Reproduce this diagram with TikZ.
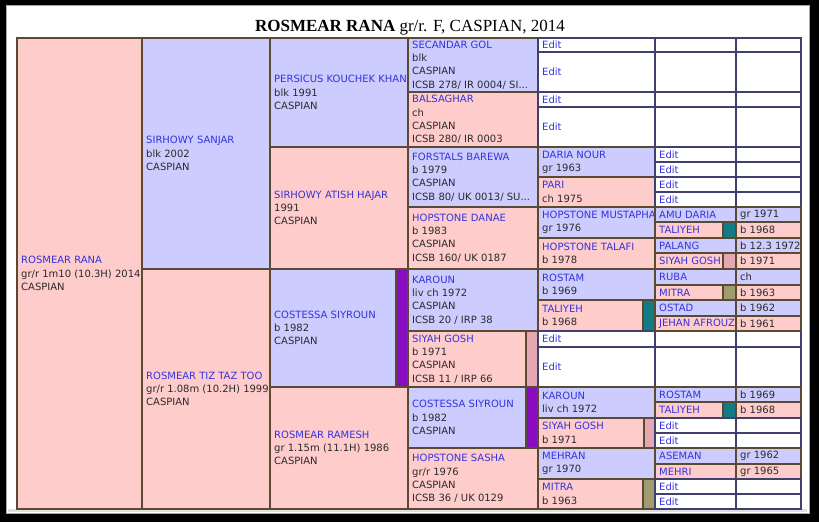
\documentclass[tikz,border=0pt]{standalone}
\usepackage{fontspec}
\newfontfamily\hfont{DejaVu Sans}
\newfontfamily\titlefont{Liberation Serif}
\usetikzlibrary{positioning}

\definecolor{sireblue}{HTML}{CCCCFF}
\definecolor{dampink}{HTML}{FFCCCC}
\definecolor{cellbrown}{HTML}{5A4A32}
\definecolor{blanknavy}{HTML}{40406E}
\definecolor{nameblue}{HTML}{3333DD}
\definecolor{textgray}{HTML}{2A2A2A}
\definecolor{purplebar}{HTML}{8A0CC0}
\definecolor{tealbar}{HTML}{137B85}
\definecolor{pinkbar}{HTML}{E4A8B2}
\definecolor{olivebar}{HTML}{A09C70}

\newcommand{\hname}[1]{\textcolor{nameblue}{#1}}

\tikzset{
  sirecell/.style={fill=sireblue, draw=cellbrown, line width=1.8pt},
  damcell/.style={fill=dampink, draw=cellbrown, line width=1.8pt},
  barcell/.style={fill=#1, draw=cellbrown, line width=1.8pt},
  blankcell/.style={fill=white, draw=blanknavy, line width=1.5pt},
  horse/.style={anchor=west, align=left, inner sep=0pt, text=textgray,
    font=\hfont\fontsize{10}{13.3}\selectfont},
}

\begin{document}
\begin{tikzpicture}[x=1pt,y=-1pt]
\useasboundingbox (0,0) rectangle (819,522);
\fill[black] (0,0) rectangle (819,522);
\fill[white] (6,5) rectangle (809,513);
\draw[gray!70, line width=1pt] (6,5) rectangle (809,513);
\fill[gray!25] (8,509) rectangle (807,512);

% title
\node[anchor=base, inner sep=0pt, font=\titlefont\fontsize{17}{20}\selectfont] (title) at (410,31)
  {\textbf{ROSMEAR RANA} gr/r. F, CASPIAN, 2014};

% generation 1 and 2
\filldraw[damcell] (17,38) rectangle (142,509);
\node[horse] (rana) at (21,273.5) {\hname{ROSMEAR RANA}\\gr/r 1m10 (10.3H) 2014\\CASPIAN};
\filldraw[sirecell] (142,38) rectangle (270,269);
\node[horse] (sanjar) at (146,153.5) {\hname{SIRHOWY SANJAR}\\blk 2002\\CASPIAN};
\filldraw[damcell] (142,269) rectangle (270,509);
\node[horse] (tiztaz) at (146,389) {\hname{ROSMEAR TIZ TAZ TOO}\\gr/r 1.08m (10.2H) 1999\\CASPIAN};

% generation 3
\filldraw[sirecell] (270,38) rectangle (408,147);
\node[horse] (persicus) at (274,92.5) {\hname{PERSICUS KOUCHEK KHAN}\\blk 1991\\CASPIAN};
\filldraw[damcell] (270,147) rectangle (408,269);
\node[horse] (atish) at (274,208) {\hname{SIRHOWY ATISH HAJAR}\\1991\\CASPIAN};
\filldraw[sirecell] (270,269) rectangle (396,387);
\filldraw[barcell=purplebar] (396,269) rectangle (408,387);
\node[horse] (costessa) at (274,328) {\hname{COSTESSA SIYROUN}\\b 1982\\CASPIAN};
\filldraw[damcell] (270,387) rectangle (408,509);
\node[horse] (ramesh) at (274,448) {\hname{ROSMEAR RAMESH}\\gr 1.15m (11.1H) 1986\\CASPIAN};

% generation 4
\filldraw[sirecell] (408,38) rectangle (538,92);
\node[horse] (secandar) at (412,65) {\hname{SECANDAR GOL}\\blk\\CASPIAN\\ICSB 278/ IR 0004/ SI...};
\filldraw[damcell] (408,92) rectangle (538,147);
\node[horse] (balsaghar) at (412,119.5) {\hname{BALSAGHAR}\\ch\\CASPIAN\\ICSB 280/ IR 0003};
\filldraw[sirecell] (408,147) rectangle (538,207);
\node[horse] (forstals) at (412,177) {\hname{FORSTALS BAREWA}\\b 1979\\CASPIAN\\ICSB 80/ UK 0013/ SU...};
\filldraw[damcell] (408,207) rectangle (538,269);
\node[horse] (danae) at (412,238) {\hname{HOPSTONE DANAE}\\b 1983\\CASPIAN\\ICSB 160/ UK 0187};
\filldraw[sirecell] (408,269) rectangle (538,331);
\node[horse] (karoun) at (412,300) {\hname{KAROUN}\\liv ch 1972\\CASPIAN\\ICSB 20 / IRP 38};
\filldraw[damcell] (408,331) rectangle (526,387);
\filldraw[barcell=pinkbar] (526,331) rectangle (538,387);
\node[horse] (siyah) at (412,359) {\hname{SIYAH GOSH}\\b 1971\\CASPIAN\\ICSB 11 / IRP 66};
\filldraw[sirecell] (408,387) rectangle (526,448);
\filldraw[barcell=purplebar] (526,387) rectangle (538,448);
\node[horse] (costessatwo) at (412,417.5) {\hname{COSTESSA SIYROUN}\\b 1982\\CASPIAN};
\filldraw[damcell] (408,448) rectangle (538,509);
\node[horse] (sasha) at (412,478.5) {\hname{HOPSTONE SASHA}\\gr/r 1976\\CASPIAN\\ICSB 36 / UK 0129};

% generation 5
\filldraw[blankcell] (538,38) rectangle (655,52);
\node[horse] (edita) at (542,45) {\hname{Edit}};
\filldraw[blankcell] (538,52) rectangle (655,92);
\node[horse] (editb) at (542,72) {\hname{Edit}};
\filldraw[blankcell] (538,92) rectangle (655,107);
\node[horse] (editc) at (542,99.5) {\hname{Edit}};
\filldraw[blankcell] (538,107) rectangle (655,147);
\node[horse] (editd) at (542,127) {\hname{Edit}};
\filldraw[sirecell] (538,147) rectangle (655,177);
\node[horse] (daria) at (542,162) {\hname{DARIA NOUR}\\gr 1963};
\filldraw[damcell] (538,177) rectangle (655,207);
\node[horse] (pari) at (542,192) {\hname{PARI}\\ch 1975};
\filldraw[sirecell] (538,207) rectangle (655,238);
\node[horse] (mustapha) at (542,222.5) {\hname{HOPSTONE MUSTAPHA}\\gr 1976};
\filldraw[damcell] (538,238) rectangle (655,269);
\node[horse] (talafi) at (542,253.5) {\hname{HOPSTONE TALAFI}\\b 1978};
\filldraw[sirecell] (538,269) rectangle (655,300);
\node[horse] (rostam) at (542,284.5) {\hname{ROSTAM}\\b 1969};
\filldraw[damcell] (538,300) rectangle (643,331);
\filldraw[barcell=tealbar] (643,300) rectangle (655,331);
\node[horse] (taliyeh) at (542,315.5) {\hname{TALIYEH}\\b 1968};
\filldraw[blankcell] (538,331) rectangle (655,347);
\node[horse] (edite) at (542,339) {\hname{Edit}};
\filldraw[blankcell] (538,347) rectangle (655,387);
\node[horse] (editf) at (542,367) {\hname{Edit}};
\filldraw[sirecell] (538,387) rectangle (655,418);
\node[horse] (karountwo) at (542,402.5) {\hname{KAROUN}\\liv ch 1972};
\filldraw[damcell] (538,418) rectangle (644,448);
\filldraw[barcell=pinkbar] (644,418) rectangle (655,448);
\node[horse] (siyahtwo) at (542,433) {\hname{SIYAH GOSH}\\b 1971};
\filldraw[sirecell] (538,448) rectangle (655,479);
\node[horse] (mehran) at (542,463.5) {\hname{MEHRAN}\\gr 1970};
\filldraw[damcell] (538,479) rectangle (643,509);
\filldraw[barcell=olivebar] (643,479) rectangle (655,509);
\node[horse] (mitra) at (542,494) {\hname{MITRA}\\b 1963};

% generation 6, empty rows
\filldraw[blankcell] (655,38) rectangle (736,52);
\filldraw[blankcell] (736,38) rectangle (801,52);
\filldraw[blankcell] (655,52) rectangle (736,92);
\filldraw[blankcell] (736,52) rectangle (801,92);
\filldraw[blankcell] (655,92) rectangle (736,107);
\filldraw[blankcell] (736,92) rectangle (801,107);
\filldraw[blankcell] (655,107) rectangle (736,147);
\filldraw[blankcell] (736,107) rectangle (801,147);
\filldraw[blankcell] (655,331) rectangle (736,347);
\filldraw[blankcell] (736,331) rectangle (801,347);
\filldraw[blankcell] (655,347) rectangle (736,387);
\filldraw[blankcell] (736,347) rectangle (801,387);

% generation 6, edit rows
\filldraw[blankcell] (655,147) rectangle (736,162);
\filldraw[blankcell] (736,147) rectangle (801,162);
\node[horse] (editg) at (659,154.5) {\hname{Edit}};
\filldraw[blankcell] (655,162) rectangle (736,177);
\filldraw[blankcell] (736,162) rectangle (801,177);
\node[horse] (edith) at (659,169.5) {\hname{Edit}};
\filldraw[blankcell] (655,177) rectangle (736,192);
\filldraw[blankcell] (736,177) rectangle (801,192);
\node[horse] (editi) at (659,184.5) {\hname{Edit}};
\filldraw[blankcell] (655,192) rectangle (736,207);
\filldraw[blankcell] (736,192) rectangle (801,207);
\node[horse] (editj) at (659,199.5) {\hname{Edit}};

% generation 6, named horses
\filldraw[sirecell] (655,207) rectangle (736,222);
\filldraw[sirecell] (736,207) rectangle (801,222);
\node[horse] (amu) at (659,214.5) {\hname{AMU DARIA}};
\node[horse] (amuyr) at (740,214.5) {gr 1971};
\filldraw[damcell] (655,222) rectangle (723,238);
\filldraw[barcell=tealbar] (723,222) rectangle (736,238);
\filldraw[damcell] (736,222) rectangle (801,238);
\node[horse] (taliyehtwo) at (659,230) {\hname{TALIYEH}};
\node[horse] (taliyehtwoyr) at (740,230) {b 1968};
\filldraw[sirecell] (655,238) rectangle (736,253);
\filldraw[sirecell] (736,238) rectangle (801,253);
\node[horse] (palang) at (659,245.5) {\hname{PALANG}};
\node[horse] (palangyr) at (740,245.5) {b 12.3 1972};
\filldraw[damcell] (655,253) rectangle (723,269);
\filldraw[barcell=pinkbar] (723,253) rectangle (736,269);
\filldraw[damcell] (736,253) rectangle (801,269);
\node[horse] (siyahthree) at (659,261) {\hname{SIYAH GOSH}};
\node[horse] (siyahthreeyr) at (740,261) {b 1971};
\filldraw[sirecell] (655,269) rectangle (736,285);
\filldraw[sirecell] (736,269) rectangle (801,285);
\node[horse] (ruba) at (659,277) {\hname{RUBA}};
\node[horse] (rubayr) at (740,277) {ch};
\filldraw[damcell] (655,285) rectangle (723,300);
\filldraw[barcell=olivebar] (723,285) rectangle (736,300);
\filldraw[damcell] (736,285) rectangle (801,300);
\node[horse] (mitratwo) at (659,292.5) {\hname{MITRA}};
\node[horse] (mitratwoyr) at (740,292.5) {b 1963};
\filldraw[sirecell] (655,300) rectangle (736,316);
\filldraw[sirecell] (736,300) rectangle (801,316);
\node[horse] (ostad) at (659,308) {\hname{OSTAD}};
\node[horse] (ostadyr) at (740,308) {b 1962};
\filldraw[damcell] (655,316) rectangle (736,331);
\filldraw[damcell] (736,316) rectangle (801,331);
\node[horse] (jehan) at (659,323.5) {\hname{JEHAN AFROUZ}};
\node[horse] (jehanyr) at (740,323.5) {b 1961};
\filldraw[sirecell] (655,387) rectangle (736,402);
\filldraw[sirecell] (736,387) rectangle (801,402);
\node[horse] (rostamtwo) at (659,394.5) {\hname{ROSTAM}};
\node[horse] (rostamtwoyr) at (740,394.5) {b 1969};
\filldraw[damcell] (655,402) rectangle (723,418);
\filldraw[barcell=tealbar] (723,402) rectangle (736,418);
\filldraw[damcell] (736,402) rectangle (801,418);
\node[horse] (taliyehthree) at (659,410) {\hname{TALIYEH}};
\node[horse] (taliyehthreeyr) at (740,410) {b 1968};
\filldraw[blankcell] (655,418) rectangle (736,433);
\filldraw[blankcell] (736,418) rectangle (801,433);
\node[horse] (editk) at (659,425.5) {\hname{Edit}};
\filldraw[blankcell] (655,433) rectangle (736,448);
\filldraw[blankcell] (736,433) rectangle (801,448);
\node[horse] (editl) at (659,440.5) {\hname{Edit}};
\filldraw[sirecell] (655,448) rectangle (736,464);
\filldraw[sirecell] (736,448) rectangle (801,464);
\node[horse] (aseman) at (659,456) {\hname{ASEMAN}};
\node[horse] (asemanyr) at (740,456) {gr 1962};
\filldraw[damcell] (655,464) rectangle (736,479);
\filldraw[damcell] (736,464) rectangle (801,479);
\node[horse] (mehri) at (659,471.5) {\hname{MEHRI}};
\node[horse] (mehriyr) at (740,471.5) {gr 1965};
\filldraw[blankcell] (655,479) rectangle (736,494);
\filldraw[blankcell] (736,479) rectangle (801,494);
\node[horse] (editm) at (659,486.5) {\hname{Edit}};
\filldraw[blankcell] (655,494) rectangle (736,509);
\filldraw[blankcell] (736,494) rectangle (801,509);
\node[horse] (editn) at (659,501.5) {\hname{Edit}};
\end{tikzpicture}
\end{document}
